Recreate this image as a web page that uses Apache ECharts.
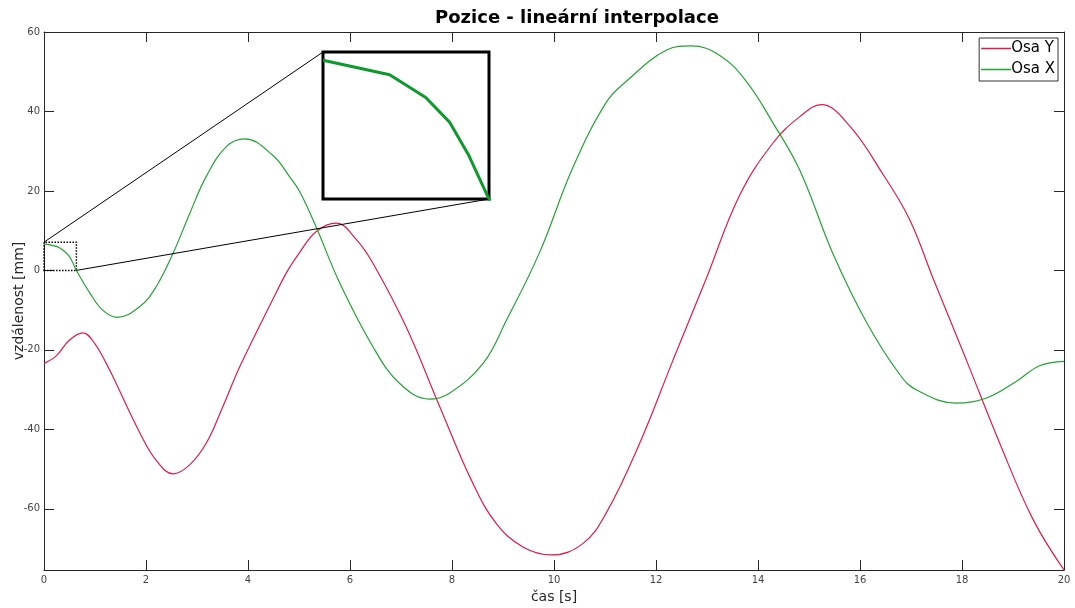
<!DOCTYPE html>
<html>
<head>
<meta charset="UTF-8">
<title>Pozice - lineární interpolace</title>
<script src="https://cdn.jsdelivr.net/npm/echarts@6/dist/echarts.min.js"></script>
<style>
body{margin:0;background:#fff;}
#main{width:1075px;height:608px;}
</style>
</head>
<body>
<div id="main"></div>
<script type="text/javascript">
// cas [s] a hodnoty
var casY = [0, 0.24, 0.5, 0.765, 1.0, 1.22, 1.35, 1.88, 2.2, 2.53, 2.85, 3.18, 3.5, 3.84, 4.49, 4.78, 5.01, 5.34, 5.73, 6.13, 6.45, 7.1, 7.76, 8.41, 8.87, 9.39, 9.95, 10.57, 11.03, 11.68, 12.33, 12.99, 13.64, 14.29, 14.82, 15.24, 15.8, 16.45, 16.97, 17.43, 18.09, 18.74, 19.39, 20];
var osaY = [-23.4, -21.5, -17.5, -15.7, -18.5, -23.4, -26.7, -40.9, -47.8, -51.2, -49.0, -43.5, -34.5, -24.2, -7.2, 0.0, 4.5, 9.8, 11.9, 7.7, 1.8, -14.2, -34.3, -53.6, -63.7, -69.6, -71.6, -68.7, -60.9, -43.5, -22.7, -1.9, 18.9, 32.0, 38.7, 41.7, 36.3, 24.2, 12.9, -1.9, -22.7, -43.5, -62.6, -75.4];

var casX = [0, 0.255, 0.393, 0.485, 0.558, 0.631, 0.9, 1.15, 1.43, 1.88, 2.2, 2.53, 2.86, 3.18, 3.58, 3.94, 4.49, 4.82, 5.01, 5.34, 5.8, 6.45, 6.97, 7.56, 7.95, 8.61, 9.07, 9.72, 10.37, 11.03, 11.42, 12.2, 12.69, 13.25, 13.77, 14.29, 14.82, 15.47, 16.13, 16.78, 17.11, 17.89, 18.48, 19.07, 19.52, 20];
var osaX = [6.7, 6.0, 4.9, 3.7, 2.1, 0.1, -5.7, -10.0, -11.8, -9.1, -4.1, 4.3, 14.4, 23.6, 31.2, 33.1, 28.9, 23.5, 19.9, 10.8, -3.2, -19.2, -28.4, -32.4, -30.9, -23.4, -12.5, 4.6, 25.9, 42.4, 47.6, 55.4, 56.5, 54.1, 47.6, 37.2, 25.2, 4.2, -13.1, -26.2, -30.1, -33.4, -32.1, -27.9, -24.0, -22.9];

// rozsahy os
var xRange = [0, 20];
var yRange = [-75.4, 60];
var zoomX = [0, 0.635];
var zoomY = [0, 7.1];

var colorY = '#e21a47';
var colorX = '#22a332';
var font = 'DejaVu Sans';

function pairs(t, v) {
	var out = [];
	for (var i = 0; i < t.length; i++) {
		out.push([t[i], v[i]]);
	}
	return out;
}

var axisLine = { show: true, onZero: false, lineStyle: { color: '#262626', width: 1 } };
var axisTick = { show: true, inside: true, length: 10, lineStyle: { color: '#262626' } };
var hidden = { show: false };

var myChart = echarts.init(document.getElementById('main'));

var option = {
	animation: false,
	backgroundColor: '#fff',
	title: {
		text: 'Pozice - lineární interpolace',
		left: 430,
		top: 4,
		textStyle: { fontFamily: font, fontSize: 18, fontWeight: 'bold', color: '#000' }
	},
	legend: {
		data: ['Osa Y', 'Osa X'],
		orient: 'vertical',
		right: 17,
		top: 38,
		icon: 'rect',
		itemWidth: 30,
		itemHeight: 1.5,
		itemGap: 6,
		padding: [3, 3, 4, 2],
		borderColor: '#333',
		borderWidth: 1,
		borderRadius: 0,
		backgroundColor: '#fff',
		textStyle: { fontFamily: font, fontSize: 15, color: '#000', padding: [0, 0, 0, -5] }
	},
	grid: [
		{ left: 44, top: 32, width: 1020, height: 538, show: false, outerBoundsMode: 'none', containLabel: false },
		{ left: 323, top: 52, width: 166, height: 147, show: true, borderColor: '#000', borderWidth: 3, backgroundColor: '#fff', z: 5, outerBoundsMode: 'none', containLabel: false }
	],
	xAxis: [
		{
			type: 'value', gridIndex: 0, min: xRange[0], max: xRange[1], interval: 2,
			name: 'čas [s]', nameLocation: 'middle', nameGap: 18,
			nameTextStyle: { fontFamily: font, fontSize: 14, color: '#262626' },
			axisLine: axisLine, axisTick: axisTick, splitLine: hidden,
			axisLabel: { fontFamily: font, fontSize: 10, color: '#444', margin: 5 }
		},
		{
			type: 'value', gridIndex: 0, position: 'top', min: xRange[0], max: xRange[1], interval: 2,
			axisLine: axisLine, axisTick: axisTick, splitLine: hidden, axisLabel: hidden
		},
		{
			type: 'value', gridIndex: 1, min: zoomX[0], max: zoomX[1],
			axisLine: hidden, axisTick: hidden, axisLabel: hidden, splitLine: hidden
		}
	],
	yAxis: [
		{
			type: 'value', gridIndex: 0, min: yRange[0], max: yRange[1], splitNumber: 7,
			name: 'vzdálenost [mm]', nameLocation: 'middle', nameGap: 18, nameMoveOverlap: false,
			nameTextStyle: { fontFamily: font, fontSize: 14, color: '#262626' },
			axisLine: axisLine, axisTick: axisTick, splitLine: hidden,
			axisLabel: {
				fontFamily: font, fontSize: 10, color: '#444', margin: 4,
				formatter: function (v) { return v % 20 === 0 ? String(v) : ''; }
			}
		},
		{
			type: 'value', gridIndex: 0, position: 'right', min: yRange[0], max: yRange[1], splitNumber: 7,
			axisLine: axisLine, axisTick: axisTick, splitLine: hidden, axisLabel: hidden
		},
		{
			type: 'value', gridIndex: 1, min: zoomY[0], max: zoomY[1],
			axisLine: hidden, axisTick: hidden, axisLabel: hidden, splitLine: hidden
		}
	],
	series: [
		{
			name: 'Osa Y', type: 'line', xAxisIndex: 0, yAxisIndex: 0,
			data: pairs(casY, osaY), showSymbol: false, symbol: 'none', smooth: 0.4,
			lineStyle: { color: colorY, width: 1.2 }, itemStyle: { color: colorY }
		},
		{
			name: 'Osa X', type: 'line', xAxisIndex: 0, yAxisIndex: 0,
			data: pairs(casX, osaX), showSymbol: false, symbol: 'none', smooth: 0.4,
			lineStyle: { color: colorX, width: 1.2 }, itemStyle: { color: colorX },
			markArea: {
				silent: true,
				itemStyle: { color: 'rgba(0,0,0,0)', borderColor: '#000', borderWidth: 1.5, borderType: 'dotted' },
				label: hidden,
				data: [[{ coord: [zoomX[0], zoomY[0]] }, { coord: [zoomX[1], zoomY[1]] }]]
			}
		},
		{
			name: 'detail', type: 'line', xAxisIndex: 2, yAxisIndex: 2, z: 6,
			data: pairs(casX, osaX), showSymbol: false, symbol: 'none',
			lineStyle: { color: '#0b9a2b', width: 3 }
		}
	]
};
myChart.setOption(option);

// spojnice mezi vyrezem a detailem
var a1 = myChart.convertToPixel({ xAxisIndex: 0, yAxisIndex: 0 }, [zoomX[0], zoomY[1]]);
var b1 = myChart.convertToPixel({ xAxisIndex: 2, yAxisIndex: 2 }, [zoomX[0], zoomY[1]]);
var a2 = myChart.convertToPixel({ xAxisIndex: 0, yAxisIndex: 0 }, [zoomX[1], zoomY[0]]);
var b2 = myChart.convertToPixel({ xAxisIndex: 2, yAxisIndex: 2 }, [zoomX[1], zoomY[0]]);

myChart.setOption({
	graphic: [
		{ type: 'line', z: 4, shape: { x1: a1[0], y1: a1[1], x2: b1[0], y2: b1[1] }, style: { stroke: '#000', lineWidth: 1 } },
		{ type: 'line', z: 4, shape: { x1: a2[0], y1: a2[1], x2: b2[0], y2: b2[1] }, style: { stroke: '#000', lineWidth: 1 } }
	]
});
</script>
</body>
</html>
